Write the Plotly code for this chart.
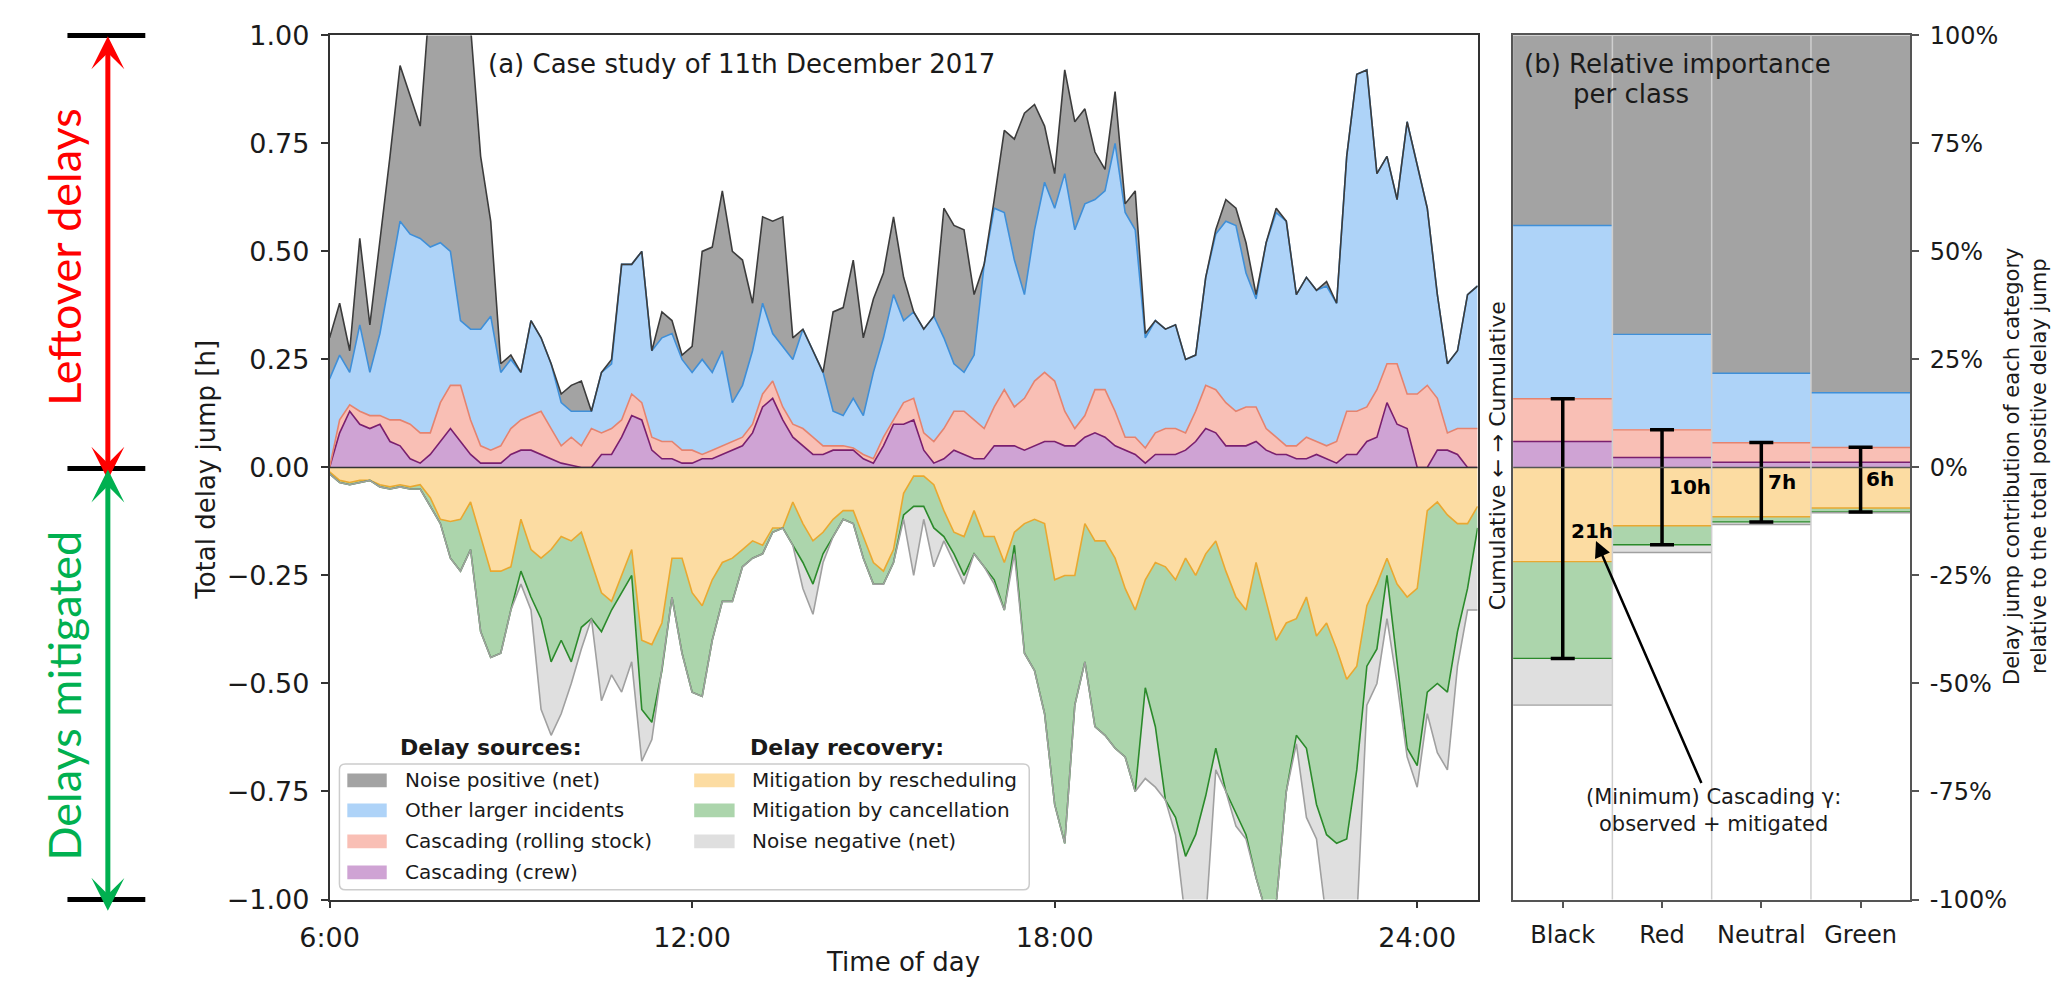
import plotly.graph_objects as go
import numpy as np

# ---------------- data: panel (a) ----------------
TIME = [
    "6:00", "6:10", "6:20", "6:30", "6:40", "6:50",
    "7:00", "7:10", "7:20", "7:30", "7:40", "7:50",
    "8:00", "8:10", "8:20", "8:30", "8:40", "8:50",
    "9:00", "9:10", "9:20", "9:30", "9:40", "9:50",
    "10:00", "10:10", "10:20", "10:30", "10:40", "10:50",
    "11:00", "11:10", "11:20", "11:30", "11:40", "11:50",
    "12:00", "12:10", "12:20", "12:30", "12:40", "12:50",
    "13:00", "13:10", "13:20", "13:30", "13:40", "13:50",
    "14:00", "14:10", "14:20", "14:30", "14:40", "14:50",
    "15:00", "15:10", "15:20", "15:30", "15:40", "15:50",
    "16:00", "16:10", "16:20", "16:30", "16:40", "16:50",
    "17:00", "17:10", "17:20", "17:30", "17:40", "17:50",
    "18:00", "18:10", "18:20", "18:30", "18:40", "18:50",
    "19:00", "19:10", "19:20", "19:30", "19:40", "19:50",
    "20:00", "20:10", "20:20", "20:30", "20:40", "20:50",
    "21:00", "21:10", "21:20", "21:30", "21:40", "21:50",
    "22:00", "22:10", "22:20", "22:30", "22:40", "22:50",
    "23:00", "23:10", "23:20", "23:30", "23:40", "23:50",
    "24:00", "24:10", "24:20", "24:30", "24:40", "24:50",
    "25:00",
]

# cumulative levels (upper boundary of each stacked layer), hours
NOISE_POS_TOP = [
    0.30, 0.38, 0.27, 0.53, 0.33, 0.52, 0.72, 0.93, 0.86, 0.79,
    1.10, 1.18, 1.22, 1.15, 1.02, 0.72, 0.57, 0.24, 0.26, 0.22,
    0.34, 0.30, 0.24, 0.17, 0.19, 0.20, 0.13, 0.22, 0.25, 0.47,
    0.47, 0.50, 0.27, 0.36, 0.34, 0.26, 0.28, 0.50, 0.51, 0.64,
    0.50, 0.48, 0.38, 0.58, 0.57, 0.58, 0.30, 0.32, 0.27, 0.22,
    0.36, 0.37, 0.48, 0.30, 0.39, 0.45, 0.58, 0.44, 0.36, 0.32,
    0.35, 0.60, 0.56, 0.55, 0.40, 0.47, 0.62, 0.78, 0.76, 0.82,
    0.84, 0.79, 0.68, 0.92, 0.80, 0.83, 0.73, 0.69, 0.87, 0.61,
    0.64, 0.31, 0.34, 0.32, 0.33, 0.25, 0.26, 0.44, 0.55, 0.62,
    0.60, 0.52, 0.40, 0.52, 0.60, 0.57, 0.40, 0.44, 0.41, 0.43,
    0.38, 0.72, 0.91, 0.92, 0.68, 0.72, 0.62, 0.80, 0.70, 0.60,
    0.40, 0.24, 0.27, 0.40, 0.42,
]
OTHER_TOP = [
    0.205, 0.26, 0.22, 0.33, 0.22, 0.31, 0.44, 0.57, 0.54, 0.53,
    0.51, 0.52, 0.50, 0.34, 0.32, 0.32, 0.35, 0.22, 0.25, 0.22,
    0.34, 0.30, 0.24, 0.15, 0.13, 0.13, 0.13, 0.22, 0.24, 0.47,
    0.47, 0.50, 0.27, 0.30, 0.31, 0.25, 0.22, 0.25, 0.22, 0.27,
    0.15, 0.19, 0.27, 0.38, 0.31, 0.28, 0.25, 0.32, 0.27, 0.22,
    0.13, 0.12, 0.16, 0.12, 0.22, 0.30, 0.40, 0.34, 0.36, 0.32,
    0.35, 0.30, 0.24, 0.22, 0.26, 0.47, 0.60, 0.59, 0.48, 0.40,
    0.55, 0.66, 0.60, 0.68, 0.55, 0.61, 0.62, 0.64, 0.75, 0.59,
    0.55, 0.30, 0.34, 0.32, 0.33, 0.25, 0.26, 0.44, 0.54, 0.57,
    0.56, 0.45, 0.39, 0.52, 0.59, 0.57, 0.40, 0.44, 0.41, 0.42,
    0.38, 0.72, 0.91, 0.92, 0.68, 0.72, 0.62, 0.80, 0.70, 0.60,
    0.40, 0.24, 0.27, 0.40, 0.42,
]
ROLLING_TOP = [
    0.00, 0.11, 0.145, 0.13, 0.12, 0.12, 0.11, 0.11, 0.10, 0.08,
    0.08, 0.15, 0.19, 0.19, 0.11, 0.05, 0.04, 0.05, 0.09, 0.11,
    0.12, 0.13, 0.09, 0.05, 0.07, 0.05, 0.09, 0.08, 0.09, 0.11,
    0.17, 0.15, 0.07, 0.06, 0.06, 0.04, 0.04, 0.03, 0.04, 0.05,
    0.06, 0.07, 0.10, 0.17, 0.20, 0.14, 0.10, 0.09, 0.07, 0.05,
    0.05, 0.05, 0.045, 0.03, 0.02, 0.07, 0.11, 0.15, 0.16, 0.08,
    0.06, 0.09, 0.13, 0.13, 0.11, 0.09, 0.14, 0.18, 0.14, 0.16,
    0.20, 0.22, 0.20, 0.13, 0.09, 0.12, 0.18, 0.18, 0.13, 0.07,
    0.07, 0.045, 0.08, 0.09, 0.09, 0.08, 0.13, 0.19, 0.18, 0.15,
    0.13, 0.14, 0.14, 0.09, 0.07, 0.05, 0.05, 0.07, 0.06, 0.05,
    0.06, 0.13, 0.13, 0.14, 0.18, 0.24, 0.24, 0.17, 0.17, 0.19,
    0.16, 0.08, 0.09, 0.09, 0.09,
]
CREW_TOP = [
    0.00, 0.08, 0.13, 0.10, 0.09, 0.10, 0.06, 0.05, 0.02, 0.01,
    0.03, 0.06, 0.09, 0.06, 0.03, 0.01, 0.01, 0.01, 0.03, 0.04,
    0.04, 0.03, 0.02, 0.01, 0.005, 0.00, 0.00, 0.03, 0.03, 0.07,
    0.12, 0.11, 0.04, 0.02, 0.02, 0.01, 0.01, 0.02, 0.02, 0.03,
    0.04, 0.05, 0.08, 0.14, 0.16, 0.11, 0.07, 0.05, 0.03, 0.03,
    0.04, 0.04, 0.04, 0.02, 0.01, 0.05, 0.10, 0.10, 0.11, 0.04,
    0.01, 0.02, 0.04, 0.03, 0.02, 0.02, 0.05, 0.05, 0.05, 0.04,
    0.05, 0.06, 0.06, 0.05, 0.05, 0.07, 0.08, 0.07, 0.05, 0.04,
    0.03, 0.01, 0.03, 0.03, 0.03, 0.04, 0.06, 0.09, 0.08, 0.05,
    0.05, 0.05, 0.06, 0.04, 0.03, 0.03, 0.02, 0.02, 0.03, 0.02,
    0.01, 0.03, 0.03, 0.06, 0.07, 0.15, 0.10, 0.09, 0.00, 0.00,
    0.04, 0.04, 0.03, 0.00, 0.00,
]
# cumulative depth (magnitude, below zero) of each recovery layer, hours
RESCHED_BOTTOM = [
    0.01, 0.03, 0.035, 0.03, 0.03, 0.04, 0.045, 0.04, 0.045, 0.04,
    0.07, 0.12, 0.125, 0.12, 0.08, 0.16, 0.24, 0.24, 0.23, 0.12,
    0.19, 0.21, 0.19, 0.16, 0.17, 0.15, 0.22, 0.29, 0.31, 0.25,
    0.19, 0.40, 0.41, 0.36, 0.21, 0.21, 0.29, 0.32, 0.26, 0.22,
    0.21, 0.19, 0.17, 0.18, 0.14, 0.14, 0.08, 0.13, 0.17, 0.15,
    0.12, 0.10, 0.10, 0.16, 0.22, 0.24, 0.19, 0.06, 0.02, 0.02,
    0.04, 0.10, 0.15, 0.16, 0.10, 0.16, 0.16, 0.22, 0.15, 0.13,
    0.12, 0.13, 0.26, 0.25, 0.25, 0.13, 0.17, 0.17, 0.21, 0.28,
    0.33, 0.26, 0.22, 0.23, 0.26, 0.21, 0.25, 0.20, 0.17, 0.24,
    0.30, 0.33, 0.22, 0.31, 0.40, 0.36, 0.35, 0.30, 0.39, 0.36,
    0.42, 0.49, 0.46, 0.32, 0.27, 0.21, 0.27, 0.30, 0.28, 0.10,
    0.08, 0.11, 0.13, 0.13, 0.09,
]
CANCEL_BOTTOM = [
    0.015, 0.035, 0.04, 0.035, 0.03, 0.045, 0.05, 0.045, 0.05, 0.05,
    0.09, 0.13, 0.21, 0.24, 0.19, 0.38, 0.44, 0.43, 0.33, 0.24,
    0.30, 0.35, 0.45, 0.40, 0.45, 0.37, 0.35, 0.38, 0.33, 0.29,
    0.25, 0.56, 0.59, 0.47, 0.30, 0.43, 0.52, 0.53, 0.40, 0.31,
    0.31, 0.23, 0.21, 0.20, 0.15, 0.14, 0.18, 0.22, 0.27, 0.20,
    0.16, 0.12, 0.13, 0.21, 0.27, 0.27, 0.22, 0.11, 0.09, 0.09,
    0.14, 0.16, 0.20, 0.25, 0.20, 0.23, 0.26, 0.33, 0.18, 0.43,
    0.47, 0.57, 0.78, 0.87, 0.55, 0.45, 0.60, 0.62, 0.65, 0.67,
    0.75, 0.51, 0.60, 0.77, 0.81, 0.90, 0.85, 0.76, 0.65, 0.75,
    0.80, 0.85, 0.95, 1.03, 1.01, 0.75, 0.62, 0.65, 0.78, 0.85,
    0.87, 0.86, 0.70, 0.46, 0.42, 0.25, 0.45, 0.65, 0.69, 0.52,
    0.50, 0.52, 0.38, 0.28, 0.14,
]
NOISE_NEG_BOTTOM = [
    0.015, 0.035, 0.04, 0.035, 0.03, 0.045, 0.05, 0.045, 0.05, 0.05,
    0.09, 0.13, 0.21, 0.24, 0.19, 0.38, 0.44, 0.43, 0.33, 0.27,
    0.33, 0.56, 0.62, 0.57, 0.50, 0.42, 0.35, 0.54, 0.48, 0.52,
    0.45, 0.68, 0.63, 0.47, 0.30, 0.43, 0.52, 0.53, 0.40, 0.31,
    0.31, 0.23, 0.21, 0.20, 0.15, 0.14, 0.18, 0.28, 0.34, 0.22,
    0.16, 0.12, 0.13, 0.21, 0.27, 0.27, 0.22, 0.12, 0.25, 0.12,
    0.23, 0.17, 0.22, 0.27, 0.20, 0.23, 0.27, 0.33, 0.20, 0.43,
    0.47, 0.57, 0.78, 0.87, 0.55, 0.45, 0.60, 0.62, 0.65, 0.67,
    0.75, 0.72, 0.74, 0.77, 0.85, 1.05, 1.05, 1.05, 0.70, 0.75,
    0.83, 0.86, 0.95, 1.03, 1.01, 0.75, 0.64, 0.81, 0.86, 1.05,
    1.05, 1.05, 1.05, 0.55, 0.50, 0.35, 0.50, 0.67, 0.74, 0.57,
    0.66, 0.70, 0.46, 0.33, 0.33,
]

# ---------------- data: panel (b) (percent of total positive delay jump) ----------------
CLASSES = ["Black", "Red", "Neutral", "Green"]
B_CREW = [6.0, 2.3, 1.2, 1.2]
B_ROLLING = [9.9, 6.4, 4.5, 3.4]
B_OTHER = [40.1, 22.1, 16.1, 12.7]
B_NOISE_POS = [44.0, 69.2, 78.2, 82.7]
B_RESCHED = [-21.8, -13.5, -11.4, -9.4]
B_CANCEL = [-22.4, -4.4, -1.2, -0.9]
B_NOISE_NEG = [-10.8, -1.8, -0.6, -0.2]
GAMMA_OBSERVED = [15.9, 8.7, 5.8, 4.7]
GAMMA_MITIGATED = [44.2, 17.9, 12.6, 10.3]
GAMMA_LABELS = ["21h", "10h", "7h", "6h"]

# ---------------- styling ----------------
W, H = 2062, 992
FONT = "DejaVu Sans"
TXT = "#1a1a1a"

def PX(x):
    return x / W

def PY(y):
    return 1 - y / H

C_GRAY, L_GRAY = "#a3a3a3", "#3c3c3c"
C_BLUE, L_BLUE = "#aed3f8", "#3f8fd8"
C_PINK, L_PINK = "#f9bfb5", "#e5836f"
C_PURP, L_PURP = "#cfa3d4", "#7a1f6e"
C_ORNG, L_ORNG = "#fcdca2", "#e9a830"
C_GREN, L_GREN = "#acd5ac", "#2b8a2b"
C_LGRY, L_LGRY = "#dfdfdf", "#a0a0a0"

t = [int(s.split(":")[0]) + int(s.split(":")[1]) / 60 for s in TIME]
zero = [0.0] * len(t)

fig = go.Figure()

# ---- panel (a): positive stack ----
fig.add_trace(go.Scatter(x=t, y=zero, mode="lines", line=dict(width=0),
                         hoverinfo="skip", showlegend=False))
for vals, fc, lc, nm in [
    (CREW_TOP, C_PURP, L_PURP, "Cascading (crew)"),
    (ROLLING_TOP, C_PINK, L_PINK, "Cascading (rolling stock)"),
    (OTHER_TOP, C_BLUE, L_BLUE, "Other larger incidents"),
    (NOISE_POS_TOP, C_GRAY, L_GRAY, "Noise positive (net)"),
]:
    fig.add_trace(go.Scatter(x=t, y=vals, mode="lines", fill="tonexty",
                             fillcolor=fc, line=dict(color=lc, width=1.6),
                             name=nm, showlegend=False))

# ---- panel (a): negative stack ----
fig.add_trace(go.Scatter(x=t, y=zero, mode="lines", line=dict(width=0),
                         hoverinfo="skip", showlegend=False))
for vals, fc, lc, nm in [
    (RESCHED_BOTTOM, C_ORNG, L_ORNG, "Mitigation by rescheduling"),
    (CANCEL_BOTTOM, C_GREN, L_GREN, "Mitigation by cancellation"),
    (NOISE_NEG_BOTTOM, C_LGRY, L_LGRY, "Noise negative (net)"),
]:
    fig.add_trace(go.Scatter(x=t, y=[-v for v in vals], mode="lines", fill="tonexty",
                             fillcolor=fc, line=dict(color=lc, width=1.6),
                             name=nm, showlegend=False))

# ---- panel (b): stacked bars ----
xb = list(range(len(CLASSES)))
for vals, fc in [(B_CREW, C_PURP), (B_ROLLING, C_PINK), (B_OTHER, C_BLUE),
                 (B_NOISE_POS, C_GRAY), (B_RESCHED, C_ORNG), (B_CANCEL, C_GREN),
                 (B_NOISE_NEG, C_LGRY)]:
    fig.add_trace(go.Bar(x=xb, y=vals, width=1.0, marker=dict(color=fc, line=dict(width=0)),
                         xaxis="x2", yaxis="y2", showlegend=False, hoverinfo="skip"))

# boundary lines on top of each bar segment
pos_cum = np.cumsum([B_CREW, B_ROLLING, B_OTHER], axis=0)
neg_cum = np.cumsum([B_RESCHED, B_CANCEL, B_NOISE_NEG], axis=0)
for row, lc in list(zip(pos_cum, [L_PURP, L_PINK, L_BLUE])) + list(zip(neg_cum, [L_ORNG, L_GREN, L_LGRY])):
    xs, ys = [], []
    for i, v in enumerate(row):
        xs += [i - 0.5, i + 0.5, None]
        ys += [float(v), float(v), None]
    fig.add_trace(go.Scatter(x=xs, y=ys, mode="lines", line=dict(color=lc, width=1.4),
                             xaxis="x2", yaxis="y2", showlegend=False, hoverinfo="skip"))

# error bars: observed + mitigated cascading
fig.add_trace(go.Scatter(x=xb, y=[0] * len(xb), mode="markers",
                         marker=dict(size=1, color="rgba(0,0,0,0)"),
                         error_y=dict(type="data", symmetric=False, array=GAMMA_OBSERVED,
                                      arrayminus=GAMMA_MITIGATED, color="black",
                                      thickness=3.5, width=12),
                         xaxis="x2", yaxis="y2", showlegend=False, hoverinfo="skip"))

# ---------------- layout ----------------
ydom = [PY(912), PY(20)]
axis_common = dict(showgrid=False, zeroline=False, showline=True, mirror=True,
                   ticks="outside", ticklen=7, tickwidth=1.5)

fig.update_layout(
    width=W, height=H, margin=dict(l=0, r=0, t=0, b=0),
    paper_bgcolor="white", plot_bgcolor="white",
    font=dict(family=FONT, color=TXT),
    showlegend=False, barmode="relative", bargap=0,
    xaxis=dict(domain=[PX(304), PX(1469)], range=[6, 25], anchor="y",
               tickvals=[6, 12, 18, 24], ticktext=["6:00", "12:00", "18:00", "24:00"],
               tickfont=dict(size=27, color=TXT), linecolor="#333", linewidth=1.5,
               tickcolor="#333", ticklabelstandoff=6, **axis_common),
    yaxis=dict(domain=ydom, range=[-1, 1], anchor="x",
               tickvals=[-1, -0.75, -0.5, -0.25, 0, 0.25, 0.5, 0.75, 1],
               ticktext=["\u22121.00", "\u22120.75", "\u22120.50", "\u22120.25", "0.00",
                         "0.25", "0.50", "0.75", "1.00"],
               tickfont=dict(size=27, color=TXT), linecolor="#333", linewidth=1.5,
               tickcolor="#333", ticklabelstandoff=6, **axis_common),
    xaxis2=dict(domain=[PX(1505), PX(1908)], range=[-0.5, 3.5], anchor="y2",
                tickvals=xb, ticktext=CLASSES, tickfont=dict(size=24, color=TXT),
                linecolor="#555", linewidth=1.5, tickcolor="#555", ticklabelstandoff=6,
                **axis_common),
    yaxis2=dict(domain=ydom, range=[-100, 100], anchor="x2", side="right",
                tickvals=[-100, -75, -50, -25, 0, 25, 50, 75, 100],
                ticktext=["-100%", "-75%", "-50%", "-25%", "0%", "25%", "50%", "75%", "100%"],
                tickfont=dict(size=24, color=TXT), linecolor="#555", linewidth=1.5,
                tickcolor="#555", ticklabelstandoff=6, **axis_common),
)

shapes = []
anns = []

def text_ann(text, x, y, size, xanchor="center", yanchor="middle", angle=0,
             color=TXT, family=FONT, **kw):
    anns.append(dict(text=text, x=PX(x), y=PY(y), xref="paper", yref="paper",
                     showarrow=False, xanchor=xanchor, yanchor=yanchor, textangle=angle,
                     font=dict(size=size, family=family, color=color), **kw))

# zero lines
shapes.append(dict(type="line", xref="x", yref="y", x0=6, x1=25, y0=0, y1=0,
                   line=dict(color="#333", width=1.6), layer="above"))
shapes.append(dict(type="line", xref="x2", yref="y2", x0=-0.5, x1=3.5, y0=0, y1=0,
                   line=dict(color="#555", width=1.4), layer="above"))
# separators between class bars
for xs in [0.5, 1.5, 2.5]:
    shapes.append(dict(type="line", xref="x2", yref="y2 domain", x0=xs, x1=xs, y0=0, y1=1,
                       line=dict(color="#cfcfcf", width=1.5), layer="above"))

# titles & axis labels
text_ann("(a) Case study of 11th December 2017", 463, 50, 26, xanchor="left")
text_ann("(b) Relative importance", 1514, 50, 26, xanchor="left")
text_ann("per class", 1564, 80, 26, xanchor="left")
text_ann("Total delay jump [h]", 179, 468, 26, angle=-90)
text_ann("Time of day", 886, 976, 26)
text_ann("Cumulative \u2190 \u2192 Cumulative", 1489, 454, 22, angle=-90)
text_ann("Delay jump contribution of each category<br>relative to the total positive delay jump",
         2025, 465, 21, angle=-90)

# gamma labels in panel (b)
for i, (lab, dx, yv) in enumerate(zip(GAMMA_LABELS, [0.29, 0.28, 0.21, 0.2], [-14.7, -4.5, -3.4, -2.6])):
    anns.append(dict(text="<b>%s</b>" % lab, x=i + dx, y=yv, xref="x2", yref="y2",
                     showarrow=False, xanchor="center", yanchor="middle",
                     font=dict(size=20, family=FONT, color="black")))

# annotation arrow in panel (b)
anns.append(dict(text="(Minimum) Cascading \u03b3:<br>observed + mitigated",
                 x=0.335, y=-17.0, xref="x2", yref="y2",
                 ax=1.515, ay=-79.3, axref="x2", ayref="y2",
                 showarrow=True, arrowhead=2, arrowsize=1.3, arrowwidth=2.5,
                 arrowcolor="black", font=dict(size=21, family=FONT, color=TXT)))

# left side: leftover / mitigated arrows
for yy in [20, 467, 912]:
    shapes.append(dict(type="line", xref="paper", yref="paper", x0=PX(38), x1=PX(117),
                       y0=PY(yy), y1=PY(yy), line=dict(color="black", width=5)))
anns.append(dict(text="", x=PX(79), y=PY(21), xref="paper", yref="paper",
                 ax=0, ay=445, showarrow=True, arrowside="end+start",
                 arrowhead=3, startarrowhead=3, arrowsize=1.1, startarrowsize=1.1,
                 arrowwidth=5, arrowcolor="#ff0000"))
anns.append(dict(text="", x=PX(79), y=PY(468), xref="paper", yref="paper",
                 ax=0, ay=443, showarrow=True, arrowside="end+start",
                 arrowhead=3, startarrowhead=3, arrowsize=1.1, startarrowsize=1.1,
                 arrowwidth=5, arrowcolor="#00b050"))
text_ann("Leftover delays", 35, 248, 45, angle=-90, color="#ff0000", family="Lato")
text_ann("Delays mitigated", 35, 701, 45, angle=-90, color="#00b050", family="Lato")

# custom legend
bx0, bx1, by0, by1, r = 314, 1014, 772, 902, 6
path = ("M {a},{b} L {c},{b} Q {d},{b} {d},{e} L {d},{f} Q {d},{g} {c},{g} "
        "L {a},{g} Q {h},{g} {h},{f} L {h},{e} Q {h},{b} {a},{b} Z").format(
    a=PX(bx0 + r), b=PY(by0), c=PX(bx1 - r), d=PX(bx1), e=PY(by0 + r),
    f=PY(by1 - r), g=PY(by1), h=PX(bx0))
shapes.append(dict(type="path", xref="paper", yref="paper", path=path,
                   fillcolor="rgba(255,255,255,0.85)", line=dict(color="#cccccc", width=1.5),
                   layer="above"))
text_ann("<b>Delay sources:</b>", 373, 755, 22, xanchor="left")
text_ann("<b>Delay recovery:</b>", 729, 755, 22, xanchor="left")
rows = [789, 820, 852, 884]
col1 = [("Noise positive (net)", C_GRAY), ("Other larger incidents", C_BLUE),
        ("Cascading (rolling stock)", C_PINK), ("Cascading (crew)", C_PURP)]
col2 = [("Mitigation by rescheduling", C_ORNG), ("Mitigation by cancellation", C_GREN),
        ("Noise negative (net)", C_LGRY)]
for (label, col), yy in zip(col1, rows):
    shapes.append(dict(type="rect", xref="paper", yref="paper", x0=PX(322), x1=PX(362),
                       y0=PY(yy + 7), y1=PY(yy - 7), fillcolor=col, line=dict(width=0),
                       layer="above"))
    text_ann(label, 379, yy, 20, xanchor="left")
for (label, col), yy in zip(col2, rows):
    shapes.append(dict(type="rect", xref="paper", yref="paper", x0=PX(674), x1=PX(715),
                       y0=PY(yy + 7), y1=PY(yy - 7), fillcolor=col, line=dict(width=0),
                       layer="above"))
    text_ann(label, 731, yy, 20, xanchor="left")

fig.update_layout(shapes=shapes, annotations=anns)
fig.write_html("out.html")
